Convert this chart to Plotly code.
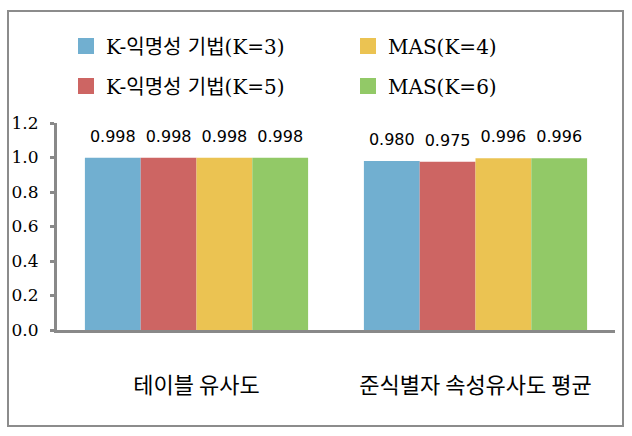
import plotly.graph_objects as go

categories = ["테이블 유사도", "준식별자 속성유사도 평균"]
series_names = ["K-익명성 기법(K=3)", "K-익명성 기법(K=5)", "MAS(K=4)", "MAS(K=6)"]
k3_values = [0.998, 0.980]
k5_values = [0.998, 0.975]
mas4_values = [0.998, 0.996]
mas6_values = [0.998, 0.996]
series_values = [k3_values, k5_values, mas4_values, mas6_values]
colors = ["#71AFD0", "#CD6563", "#EBC352", "#92C967"]
legend_ids = ["legend", "legend2", "legend3", "legend4"]
y_ticks = [0.0, 0.2, 0.4, 0.6, 0.8, 1.0, 1.2]

W, H = 632, 436
ML, MR, MT, MB = 57, 17, 123, 106
PW, PH = W - ML - MR, H - MT - MB

def px_x(p):
    return (p - ML) / PW

def px_y(p):
    return (H - MB - p) / PH

fig = go.Figure()

for name, vals, col in zip(series_names, series_values, colors):
    fig.add_trace(go.Bar(
        x=categories, y=vals, name=name, marker=dict(color=col, line=dict(width=0)),
        showlegend=False, offsetgroup=name, alignmentgroup="a",
    ))

for name, vals in zip(series_names, series_values):
    fig.add_trace(go.Scatter(
        x=categories, y=vals, mode="markers+text",
        text=[f"{v:.3f}" for v in vals], textposition="top center",
        textfont=dict(family="DejaVu Sans", size=16, color="#000000"),
        marker=dict(size=18, opacity=0), showlegend=False,
        offsetgroup=name, alignmentgroup="a", cliponaxis=False, hoverinfo="skip",
    ))

for name, col, lg in zip(series_names, colors, legend_ids):
    fig.add_trace(go.Scatter(
        x=[None], y=[None], mode="markers", name=name,
        marker=dict(symbol="square", size=17, color=col),
        xaxis="x2", yaxis="y2", legend=lg,
    ))

legend_common = dict(
    orientation="h", xanchor="left", yanchor="middle",
    font=dict(family="DejaVu Serif, Noto Sans CJK KR", size=20, color="#000000"),
    bgcolor="rgba(0,0,0,0)", itemclick=False, itemdoubleclick=False,
)

# legend anchor pixel positions (col x, row y)
leg_pos = {"legend": (66, 46), "legend2": (66, 86), "legend3": (348, 46), "legend4": (348, 86)}

fig.update_layout(
    width=W, height=H,
    margin=dict(l=ML, r=MR, t=MT, b=MB, autoexpand=False),
    paper_bgcolor="white", plot_bgcolor="white",
    barmode="group", bargap=0.2, bargroupgap=0,
    scattermode="group", scattergap=0.2,
    xaxis=dict(
        showgrid=False, showline=True, linecolor="#898989", linewidth=3,
        ticks="", ticklabelstandoff=34, zeroline=False,
        tickfont=dict(family="Noto Sans CJK KR", size=22, color="#000000"),
    ),
    yaxis=dict(
        range=[0, 1.2], tickvals=y_ticks, tickformat=".1f",
        showgrid=False, showline=True, linecolor="#898989", linewidth=3,
        ticks="outside", ticklen=4, tickwidth=3, tickcolor="#898989",
        ticklabelstandoff=8, zeroline=False,
        tickfont=dict(family="DejaVu Serif", size=17, color="#000000"),
    ),
    xaxis2=dict(visible=False, domain=[0, 0.01], anchor="y2"),
    yaxis2=dict(visible=False, domain=[0, 0.01], anchor="x2"),
    shapes=[dict(
        type="rect", xref="paper", yref="paper",
        x0=px_x(8), x1=px_x(623), y0=px_y(426), y1=px_y(11),
        line=dict(color="#8C8C8C", width=2), fillcolor="rgba(0,0,0,0)", layer="below",
    )],
    showlegend=True,
)
for lg, (lx, ly) in leg_pos.items():
    fig.update_layout({lg: dict(x=px_x(lx), y=px_y(ly), **legend_common)})

fig.write_html("out.html")
